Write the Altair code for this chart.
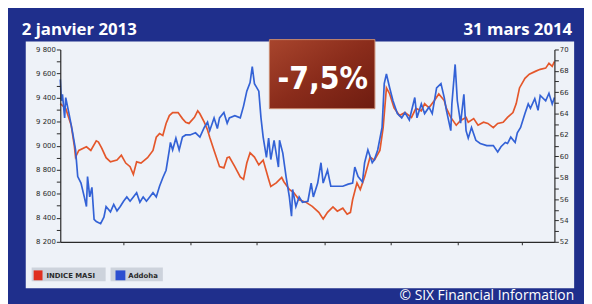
import altair as alt
import pandas as pd

# ---- data (days since 2 Jan 2013) ----
masi_days = [0,5,10,13,14,17,24,28,33,35,38,42,46,52,56,60,64,67,70,74,80,85,88,91,94,97,100,103,108,112,115,118,123,126,128,132,135,137,141,146,150,153,155,160,165,168,171,174,178,182,186,191,193,198,203,205,210,214,219,225,231,237,241,245,250,254,259,263,266,268,272,275,279,284,288,293,296,299,302,306,311,316,322,326,331,334,338,343,347,352,354,358,363,367,372,374,379,383,388,392,397,401,406,410,415,418,421,426,430,436,440,445,448,451,453]
masi_vals = [9350,9310,9170,8990,8905,8960,8990,8960,9040,9030,8980,8900,8865,8880,8920,8855,8825,8760,8865,8855,8900,8960,9070,9100,9085,9185,9250,9275,9275,9225,9195,9185,9235,9290,9265,9195,9130,9070,8960,8825,8815,8900,8905,8825,8740,8720,8855,8940,8905,8840,8880,8720,8660,8690,8735,8700,8635,8610,8550,8530,8495,8445,8390,8445,8490,8455,8480,8430,8445,8550,8690,8635,8740,8905,8880,8960,9150,9480,9430,9315,9250,9275,9235,9310,9290,9350,9315,9375,9430,9375,9310,9235,9170,9210,9235,9195,9225,9170,9195,9185,9150,9185,9195,9235,9275,9350,9480,9560,9595,9620,9635,9645,9685,9660,9700]

addoha_days = [0,1,2,4,5,8,11,14,16,19,22,24,25,27,29,31,33,37,40,42,46,49,52,55,58,61,64,67,70,73,76,79,82,85,88,91,94,97,100,101,103,106,109,112,115,119,124,128,132,135,137,141,144,146,150,153,155,160,165,168,171,174,176,178,182,184,186,189,191,193,196,200,201,204,207,210,212,213,216,219,222,227,230,232,236,239,241,245,248,252,259,264,268,270,273,277,279,282,286,288,291,295,297,299,302,305,309,313,316,320,325,327,331,334,338,341,345,349,352,354,358,359,362,364,367,370,372,374,377,381,385,391,397,401,404,408,410,413,417,419,422,426,429,431,435,438,440,445,448,451,453]
addoha_vals = [67.2,65.2,65.8,63.6,65.5,64.0,62.4,60.6,58.1,57.5,56.2,55.3,58.1,56.2,57.1,54.1,53.9,53.7,54.3,55.3,54.8,55.5,54.9,55.3,55.8,56.2,55.8,56.2,56.6,55.7,56.2,55.8,56.2,56.6,56.2,57.2,58.0,58.7,60.6,61.3,60.6,61.7,60.6,61.8,62.0,62.0,62.2,61.8,62.7,63.2,62.4,63.6,62.6,63.6,64.1,63.1,63.6,63.8,63.6,64.7,66.1,66.9,68.4,66.8,66.1,63.6,61.8,59.9,61.7,59.7,61.5,59.0,61.5,60.3,58.1,56.2,54.4,56.9,55.3,56.2,55.7,55.8,57.5,56.2,57.5,59.4,57.5,58.7,57.2,57.2,57.2,57.4,57.5,59.0,58.1,57.6,59.4,60.6,59.4,59.7,60.6,62.7,66.8,67.7,66.4,65.2,64.0,63.6,64.1,63.4,65.5,63.6,64.9,64.0,64.6,64.0,66.4,66.8,65.5,64.3,62.4,64.9,68.6,65.2,63.1,65.8,62.4,61.7,62.7,61.5,61.2,61.0,61.0,60.4,60.9,61.3,61.2,61.8,61.3,62.2,62.7,64.0,64.9,64.5,65.4,64.3,65.7,65.2,65.9,64.9,65.5]

series_names = ["INDICE MASI", "Addoha"]
start_label = "2 janvier 2013"
end_label = "31 mars 2014"
change_label = "-7,5%"
source_label = "© SIX Financial Information"

masi_ticks = list(range(8200, 9801, 100))
addoha_ticks = list(range(52, 71, 1))

start = pd.Timestamp("2013-01-02")
def to_dates(days):
    return [(start + pd.Timedelta(days=d)).strftime("%Y-%m-%d") for d in days]

df_masi = pd.DataFrame({"date": to_dates(masi_days), "value": masi_vals})
df_add = pd.DataFrame({"date": to_dates(addoha_days), "value": addoha_vals})

RED = "#e4572b"
BLUE = "#3362d6"
FRAME = "#1f2f8c"
PANEL = "#eef2f8"
INK = "#2a2a2a"

one = alt.Data(values=[{"k": 0}])

xscale = alt.Scale(domain=["2013-01-02", "2014-03-31"], nice=False)
xaxis = alt.Axis(labels=False, title=None, grid=False, tickSize=3, zindex=2,
                 domainColor=INK, tickColor=INK, domainWidth=1.2,
                 values=[alt.DateTime(year=y, month=m, date=1) for (y, m) in
                         [(2013, 3), (2013, 5), (2013, 7), (2013, 9), (2013, 11), (2014, 1), (2014, 3)]])

def rect(x, x2, y, y2, color, **kw):
    return alt.Chart(one).mark_rect(color=color, **kw).encode(
        x=alt.value(x), x2=alt.value(x2), y=alt.value(y), y2=alt.value(y2))

def label(x, y, text, **kw):
    return alt.Chart(one).mark_text(text=text, **kw).encode(x=alt.value(x), y=alt.value(y))

panel = rect(-35, 521, -8, 242, PANEL)

badge = alt.Chart(one).mark_rect(
    color=alt.LinearGradient(gradient="linear", x1=0, x2=1, y1=0, y2=1,
                             stops=[alt.GradientStop(color="#a8452d", offset=0),
                                    alt.GradientStop(color="#8a2c1b", offset=0.5),
                                    alt.GradientStop(color="#6e1c10", offset=1)]),
    stroke="#c98a70", strokeWidth=1).encode(
    x=alt.value(212), x2=alt.value(319), y=alt.value(-10), y2=alt.value(60))
badge_text = label(266, 40, change_label, color="white", fontSize=32, fontWeight="bold",
                   font="DejaVu Sans Condensed", align="center", baseline="alphabetic")

head_left = label(-39, -15, start_label, color="white", fontSize=17, fontWeight="bold",
                  font="Open Sans", align="left", baseline="alphabetic")
head_right = label(519, -15, end_label, color="white", fontSize=17, fontWeight="bold",
                   font="Open Sans", align="right", baseline="alphabetic")

leg_box1 = rect(-29, 46, 221, 235, "#cdd3dc")
leg_sq1 = rect(-27, -18, 224, 234, "#e03020")
leg_t1 = label(-14, 229.5, series_names[0], color=INK, fontSize=7, fontWeight="bold",
               font="DejaVu Sans", align="left", baseline="middle")
leg_box2 = rect(51, 104, 221, 235, "#cdd3dc")
leg_sq2 = rect(56, 66, 224, 234, "#2d4fd0")
leg_t2 = label(69, 229.5, series_names[1], color=INK, fontSize=7, fontWeight="bold",
               font="DejaVu Sans", align="left", baseline="middle")

footer = label(521, 254, source_label, color="white", fontSize=14, font="Open Sans",
               align="right", baseline="alphabetic")

line_masi = alt.Chart(df_masi).mark_line(color=RED, strokeWidth=1.7).encode(
    x=alt.X("date:T", scale=xscale, axis=xaxis),
    y=alt.Y("value:Q",
            scale=alt.Scale(domain=[8200, 9800], nice=False, zero=False),
            axis=alt.Axis(orient="left", title=None, grid=False, values=masi_ticks, zindex=2,
                          labelExpr="datum.value % 200 == 0 ? replace(format(datum.value, ','), ',', ' ') : ''",
                          tickSize=4, labelFontSize=7, labelColor=INK, labelFont="DejaVu Sans",
                          labelPadding=1, domainColor=INK, tickColor=INK, domainWidth=1.2)))

line_add = alt.Chart(df_add).mark_line(color=BLUE, strokeWidth=1.7).encode(
    x=alt.X("date:T", scale=xscale, axis=xaxis),
    y=alt.Y("value:Q",
            scale=alt.Scale(domain=[52, 70], nice=False, zero=False),
            axis=alt.Axis(orient="right", title=None, grid=False, values=addoha_ticks, zindex=2,
                          labelExpr="datum.value % 2 == 0 ? datum.value : ''",
                          tickSize=4, labelFontSize=7, labelColor=INK, labelFont="DejaVu Sans",
                          labelPadding=1, domainColor=INK, tickColor=INK, domainWidth=1.2)))

chart = alt.layer(
    panel, badge, badge_text, head_left, head_right,
    leg_box1, leg_sq1, leg_t1, leg_box2, leg_sq2, leg_t2, footer,
    line_masi, line_add,
).resolve_scale(y="independent").properties(
    width=501, height=195,
    autosize=alt.AutoSizeParams(type="none"),
    padding={"left": 53, "top": 40, "right": 30, "bottom": 61},
    background=FRAME,
).configure_view(stroke=None)

chart.save("out.html", embed_options={"renderer": "svg", "actions": False})
